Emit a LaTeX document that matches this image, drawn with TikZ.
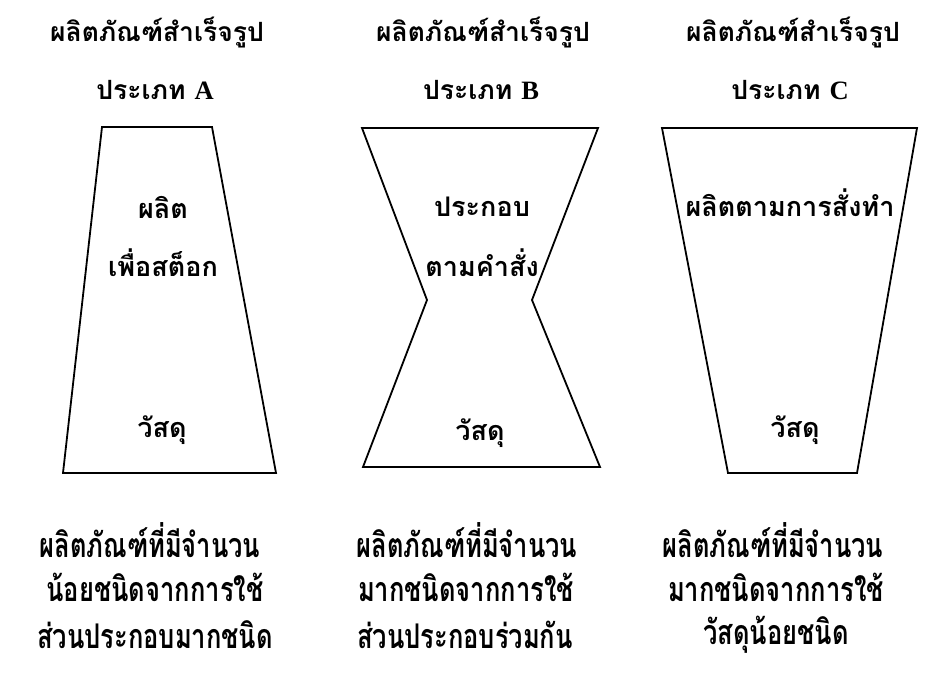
\documentclass[tikz,border=0pt]{standalone}
\usepackage{fontspec}
\setmainfont{Liberation Serif}
\newfontfamily\thaifont[Script=Thai]{Loma}
\newfontfamily\thainarrow[Script=Thai,FakeStretch=0.75]{Loma}

\tikzstyle{head} = [font=\thaifont\bfseries\fontsize{26.5}{30}\selectfont, inner sep=0pt]
\tikzstyle{inside} = [font=\thaifont\bfseries\fontsize{27}{30}\selectfont, inner sep=0pt]
\tikzstyle{note} = [font=\thainarrow\bfseries\fontsize{34}{40}\selectfont, inner sep=0pt]
\tikzstyle{frame} = [line width=1.8pt, line join=miter]

\begin{document}
\begin{tikzpicture}[x=1pt,y=-1pt]
\useasboundingbox (0,0) rectangle (926,676);
%begin type A
\node[head] (titleA1) at (157,33) {ผลิตภัณฑ์สำเร็จรูป};
\node[head] (titleA2) at (155,90) {ประเภท {\rmfamily A}};
\draw[frame] (102,127) -- (212,127) -- (276,473) -- (63,473) -- cycle;
\node[inside] (makeA1) at (163,207) {ผลิต};
\node[inside] (makeA2) at (163,263) {เพื่อสต็อก};
\node[inside] (stuffA) at (162,430) {วัสดุ};
\node[note] (noteA1) at (150,540) {ผลิตภัณฑ์ที่มีจำนวน};
\node[note] (noteA2) at (155,587) {น้อยชนิดจากการใช้};
\node[note] (noteA3) at (155,635) {ส่วนประกอบมากชนิด};
%end type A
%begin type B
\node[head] (titleB1) at (483,33) {ผลิตภัณฑ์สำเร็จรูป};
\node[head] (titleB2) at (481,90) {ประเภท {\rmfamily B}};
\draw[frame] (362,128) -- (598,128) -- (532,300) -- (600,467)
    -- (363,467) -- (427,300) -- cycle;
\node[inside] (makeB1) at (482,207) {ประกอบ};
\node[inside] (makeB2) at (482,263) {ตามคำสั่ง};
\node[inside] (stuffB) at (480,433) {วัสดุ};
\node[note] (noteB1) at (467,540) {ผลิตภัณฑ์ที่มีจำนวน};
\node[note] (noteB2) at (466,587) {มากชนิดจากการใช้};
\node[note] (noteB3) at (465,635) {ส่วนประกอบร่วมกัน};
%end type B
%begin type C
\node[head] (titleC1) at (793,33) {ผลิตภัณฑ์สำเร็จรูป};
\node[head] (titleC2) at (790,90) {ประเภท {\rmfamily C}};
\draw[frame] (662,128) -- (917,128) -- (857,473) -- (728,473) -- cycle;
\node[inside] (makeC1) at (790,203) {ผลิตตามการสั่งทำ};
\node[inside] (stuffC) at (795,430) {วัสดุ};
\node[note] (noteC1) at (773,540) {ผลิตภัณฑ์ที่มีจำนวน};
\node[note] (noteC2) at (776,587) {มากชนิดจากการใช้};
\node[note] (noteC3) at (776,635) {วัสดุน้อยชนิด};
%end type C
\end{tikzpicture}
\end{document}
